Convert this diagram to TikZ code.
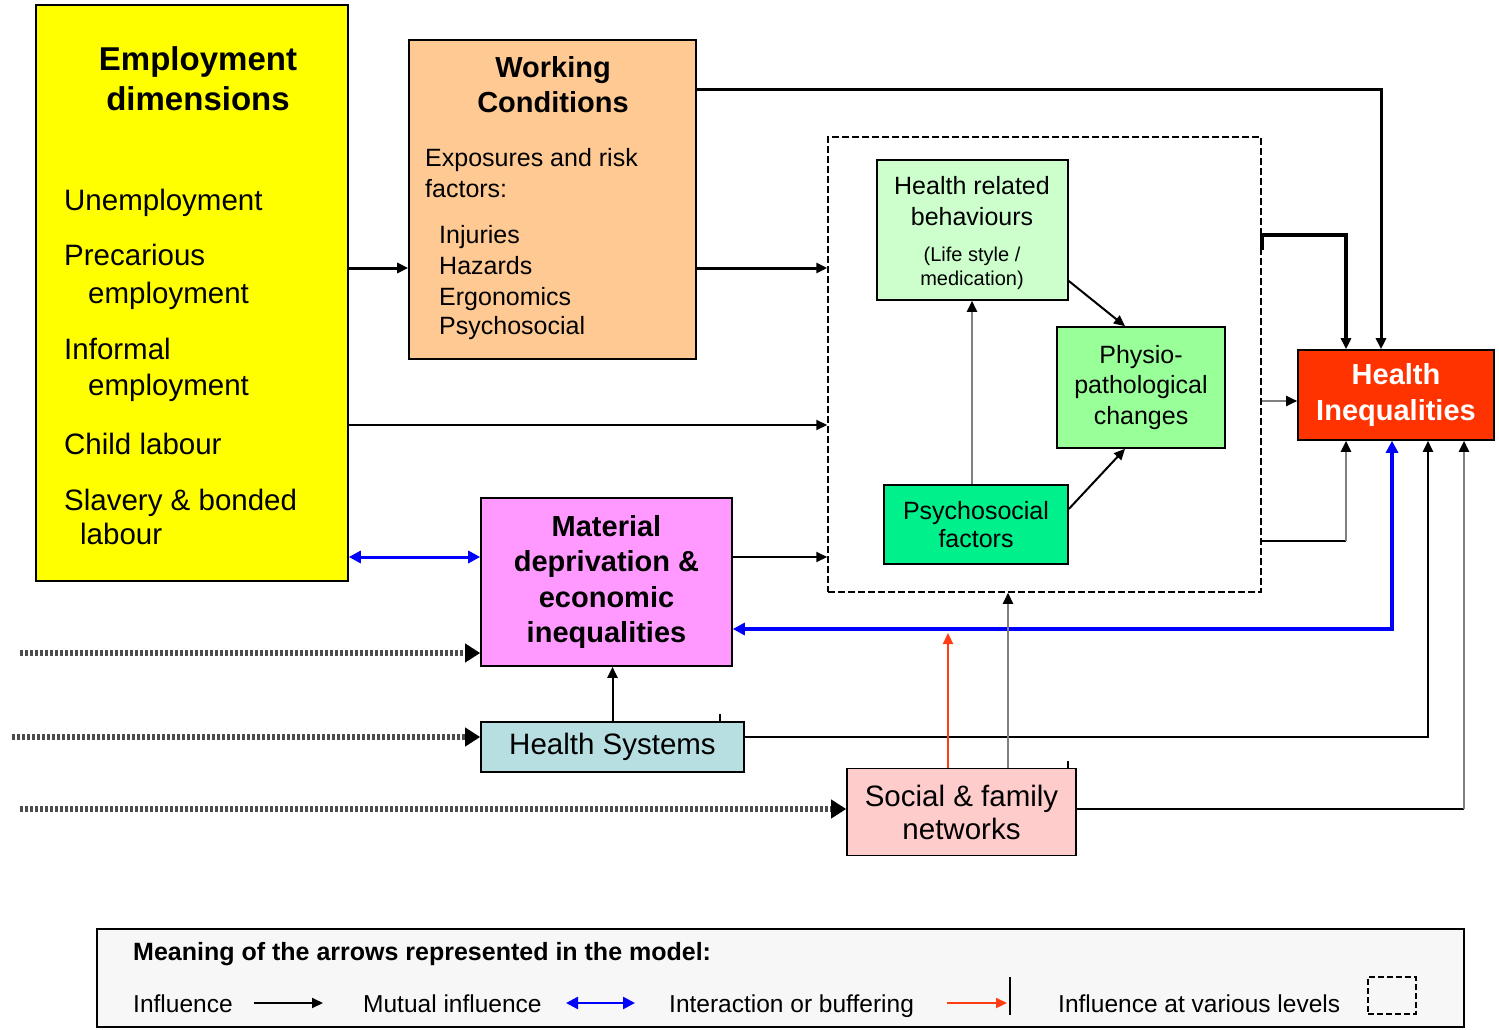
\documentclass[tikz,border=0pt]{standalone}
\usepackage{fontspec}
\setmainfont{Liberation Sans}
\usetikzlibrary{arrows.meta}

\definecolor{empyellow}{RGB}{255,255,0}
\definecolor{wcpeach}{RGB}{255,201,147}
\definecolor{hrbgreen}{RGB}{204,255,204}
\definecolor{phygreen}{RGB}{153,255,153}
\definecolor{psygreen}{RGB}{0,240,140}
\definecolor{hired}{RGB}{255,51,0}
\definecolor{matpink}{RGB}{255,153,255}
\definecolor{hsblue}{RGB}{183,222,224}
\definecolor{sfnpink}{RGB}{255,204,204}
\definecolor{leggray}{RGB}{247,247,247}
\definecolor{bufred}{RGB}{255,60,20}

\begin{document}
\begin{tikzpicture}[x=1pt, y=-1pt,
  >={Triangle[length=11pt,width=10pt]},
  box/.style={draw, line width=1.6pt, inner sep=0pt, align=center},
  txt/.style={inner sep=0pt},
  big/.style={font=\fontsize{29.5}{35.5}\selectfont},
  bigb/.style={font=\bfseries\fontsize{29}{35.5}\selectfont},
  mid/.style={font=\fontsize{25}{30.5}\selectfont},
  lg/.style={txt, anchor=base west, font=\fontsize{24.5}{28}\selectfont},
  arr/.style={->, line width=2pt},
  thk/.style={->, line width=3pt},
  mutual/.style={{Triangle[length=12pt,width=12pt]}-{Triangle[length=12pt,width=12pt]}, line width=3pt, draw=blue},
  greyarr/.style={-{Triangle[length=11pt,width=10pt,color=black]}, line width=2.2pt, draw=gray},
  bufarr/.style={->, line width=2.2pt, draw=bufred},
  dotarr/.style={line width=6pt, draw=black!70, dash pattern=on 2.5pt off 2.5pt,
    -{Triangle[length=15pt,width=18pt,color=black]}},
]
\useasboundingbox (0,0) rectangle (1499,1030);

% boxes
\node[box, fill=empyellow, minimum width=312pt, minimum height=576pt] (emp) at (192,293) {};
\node[box, fill=wcpeach, minimum width=287pt, minimum height=319pt] (wc) at (552.5,199.5) {};
\node[draw, line width=1.5pt, dash pattern=on 7pt off 3pt, minimum width=433pt, minimum height=455pt] (lev) at (1044.5,364.5) {};
\node[box, fill=hrbgreen, minimum width=191pt, minimum height=140pt] (hrb) at (972.5,230) {};
\node[box, mid, fill=phygreen, minimum width=168pt, minimum height=121pt] (phy) at (1141,387.5) {Physio-\\pathological\\changes};
\node[box, font=\fontsize{25}{28}\selectfont, fill=psygreen, minimum width=184pt, minimum height=79pt] (psy) at (976,524.5) {Psychosocial\\factors};
\node[box, bigb, fill=hired, text=white, minimum width=196pt, minimum height=90pt] (hi) at (1396,395) {Health\\Inequalities};
\node[box, bigb, fill=matpink, minimum width=251pt, minimum height=168pt] (mat) at (606.5,582) {Material\\deprivation \&\\economic\\inequalities};
\node[box, big, fill=hsblue, minimum width=263pt, minimum height=50pt] (hs) at (612.5,747) {Health Systems};
\node[box, font=\fontsize{29.5}{33}\selectfont, fill=sfnpink, minimum width=229pt, minimum height=87pt] (sfn) at (961.5,812) {Social \& family\\networks};

% texts in the boxes
\node[txt, anchor=base, font=\bfseries\fontsize{33}{40}\selectfont] (empt1) at (198,71) {Employment};
\node[txt, anchor=base, font=\bfseries\fontsize{33}{40}\selectfont] (empt2) at (198,111) {dimensions};
\foreach \t/\x/\y [count=\i] in {Unemployment/64/210, Precarious/64/265, employment/88/303,
    Informal/64/359, employment/88/395, Child labour/64/454, Slavery \& bonded/64/510, labour/80/544}
  \node[txt, big, anchor=base west] (emp\i) at (\x,\y) {\t};
\node[txt, bigb, anchor=base] (wct1) at (553,78) {Working};
\node[txt, bigb, anchor=base] (wct2) at (553,113) {Conditions};
\foreach \t/\x/\y [count=\i] in {Exposures and risk/425/167, factors:/425/197, Injuries/439/243,
    Hazards/439/274, Ergonomics/439/305, Psychosocial/439/334}
  \node[txt, mid, anchor=base west] (wc\i) at (\x,\y) {\t};
\node[txt, mid, anchor=base] (hrb1) at (972,194) {Health related};
\node[txt, mid, anchor=base] (hrb2) at (972,225) {behaviours};
\node[txt, font=\fontsize{20}{24}\selectfont, anchor=base] (hrb3) at (972,261) {(Life style /};
\node[txt, font=\fontsize{20}{24}\selectfont, anchor=base] (hrb4) at (972,285) {medication)};

% connectors
\draw[thk] (emp.east |- 0,268) -- (wc.west |- 0,268);
\draw[thk] (wc.east |- 0,90) -| (hi.north -| 1381,0);
\draw[thk] (wc.east |- 0,268) -- (lev.west |- 0,268);
\draw[arr] (emp.east |- 0,425) -- (lev.west |- 0,425);
\draw[mutual] (emp.east |- 0,557) -- (mat.west |- 0,557);
\draw[arr] (mat.east |- 0,557) -- (lev.west |- 0,557);

\draw[arr] (hrb.east |- 0,281) -- (phy.north -| 1125,0);
\draw[arr] (psy.east |- 0,509) -- (phy.south -| 1125,0);
\draw[greyarr] (psy.north -| 972,0) -- (hrb.south -| 972,0);

\draw[->, line width=3.5pt] (lev.east |- 0,235) -| (hi.north -| 1346,0);
\draw[line width=3.5pt] (lev.east |- 0,235) -- (lev.east |- 0,250);
\draw[greyarr] (lev.east |- 0,401) -- (hi.west |- 0,401);
\coordinate (k1) at (1346,541);
\draw[line width=2pt] (lev.east |- k1) -- (k1);
\draw[greyarr] (k1) -- (hi.south -| k1);
\draw[mutual, line width=4pt] (mat.east |- 0,629) -| (hi.south -| 1392,0);
\draw[arr] (hs.east |- 0,737) -| (hi.south -| 1428,0);
\coordinate (k2) at (1464,809);
\draw[line width=2pt] (sfn.east |- k2) -- (k2);
\draw[greyarr] (k2) -- (hi.south -| k2);

\draw[arr] (hs.north) -- (hs.north |- mat.south);
\draw[greyarr] (sfn.north -| 1008,0) -- (lev.south -| 1008,0);
\coordinate (b1) at (948,633);
\draw[bufarr] (sfn.north -| b1) -- (b1);
\draw[line width=1.2pt] (hs.north -| 720,0) -- ++(0,-7);
\draw[line width=1.2pt] (sfn.north -| 1068,0) -- ++(0,-7);

\coordinate (d1) at (20,653);
\coordinate (d2) at (12,737);
\coordinate (d3) at (20,809);
\draw[dotarr] (d1) -- (mat.west |- d1);
\draw[dotarr] (d2) -- (hs.west |- d2);
\draw[dotarr] (d3) -- (sfn.west |- d3);

% legend
\node[draw, line width=1.6pt, fill=leggray, minimum width=1367pt, minimum height=98pt] (leg) at (780.5,978) {};
\node[txt, anchor=base west, font=\bfseries\fontsize{25}{28}\selectfont] (legt) at (133,960) {Meaning of the arrows represented in the model:};
\node[lg] (lg1) at (133,1012) {Influence};
\node[lg] (lg2) at (363,1012) {Mutual influence};
\node[lg] (lg3) at (669,1012) {Interaction or buffering};
\node[lg] (lg4) at (1058,1012) {Influence at various levels};
\node[draw, line width=1.5pt, dash pattern=on 6pt off 3pt, minimum width=48pt, minimum height=37pt] (lgbox) at (1392,995.5) {};
\coordinate (la1) at (254,1003);
\coordinate (la2) at (323,1003);
\coordinate (lb1) at (566,1003);
\coordinate (lb2) at (635,1003);
\coordinate (lc1) at (947,1003);
\coordinate (lc2) at (1007,1003);
\draw[arr] (la1) -- (la2);
\draw[mutual, line width=2.5pt] (lb1) -- (lb2);
\draw[bufarr] (lc1) -- (lc2);
\draw[line width=1.5pt] (1010,977) -- (1010,1015);

\end{tikzpicture}
\end{document}
